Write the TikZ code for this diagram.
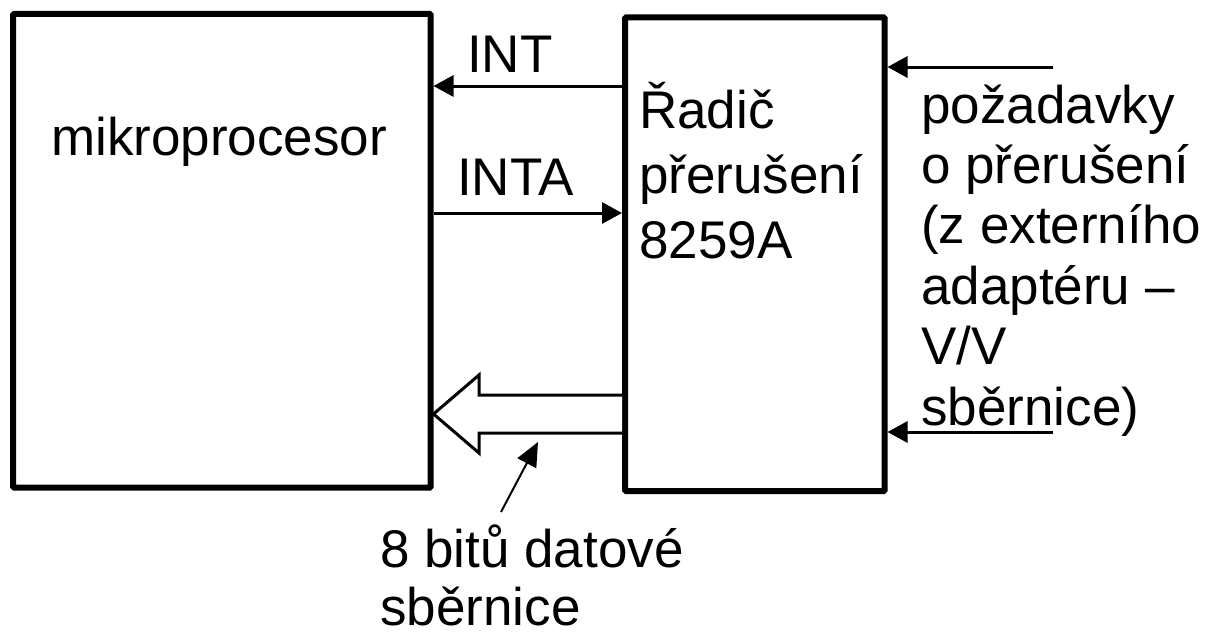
\documentclass[tikz,border=0pt]{standalone}
\usepackage{fontspec}
\setmainfont{Liberation Sans}
\usetikzlibrary{arrows.meta}
\begin{document}
\begin{tikzpicture}[x=1pt,y=-1pt,
  box/.style={draw,line width=6pt,rounded corners=1pt,inner sep=0pt},
  sig/.style={line width=3pt,-{Triangle[length=20pt,width=21pt]}},
  lbl/.style={inner sep=0pt,anchor=base west,align=left}]
\useasboundingbox (0,0) rectangle (1209,634);
\node[box,minimum width=417.5pt,minimum height=473.5pt] (mp) at (221.75,250.75) {};
\node[box,minimum width=259.5pt,minimum height=473.5pt] (ctrl) at (754.75,254.25) {};
\node[lbl,font=\fontsize{53}{60}\selectfont] (mptext) at (51,155) {mikroprocesor};
\node[lbl,font=\fontsize{53}{65}\selectfont] (ctrltext) at (639,258) {Řadič\\přerušení\\8259A};
\node[lbl,font=\fontsize{53}{60}\selectfont] (inttext) at (467,72) {INT};
\node[lbl,font=\fontsize{53}{60}\selectfont] (intatext) at (457,195) {INTA};
\node[lbl,font=\fontsize{53}{60.4}\selectfont] (reqtext) at (921,425) {požadavky\\o přerušení\\(z externího\\adaptéru –\\V/V\\sběrnice)};
\node[lbl,font=\fontsize{53}{58}\selectfont] (bustext) at (380,625) {8 bitů datové\\sběrnice};
% INT / INTA
\draw[sig] (ctrl.west |- 0,86) -- (mp.east |- 0,86);
\draw[sig] (mp.east |- 0,213) -- (ctrl.west |- 0,213);
% requests
\coordinate (r1) at (1053,67);
\coordinate (r2) at (1053,432);
\draw[sig] (r1) -- (ctrl.east |- r1);
\draw[sig] (r2) -- (ctrl.east |- r2);
% data bus hollow arrow
\draw[line width=3pt,fill=white,line join=miter]
  (ctrl.west |- 0,395) -- (479,395) -- (479,375) -- (mp.east |- 0,414)
  -- (479,453) -- (479,433) -- (ctrl.west |- 0,433);
% pointer
\coordinate (bp) at (501,512);
\coordinate (bt) at (538,442);
\draw[line width=2pt,-{Triangle[length=24pt,width=21pt]}] (bp) -- (bt);
\end{tikzpicture}
\end{document}
